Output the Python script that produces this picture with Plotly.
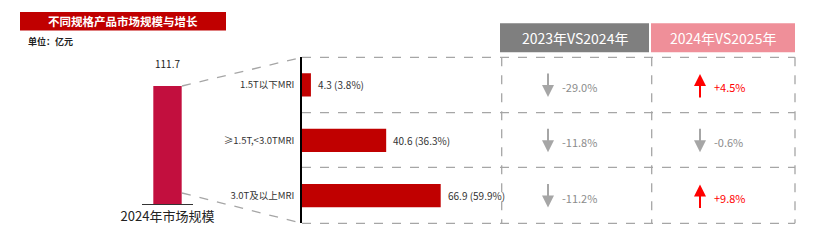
import plotly.graph_objects as go

W, H = 831, 242

# ---- data ----
total_label = "2024年市场规模"
total_value = 111.7
categories = ["1.5T以下MRI", "≥1.5T,<3.0TMRI", "3.0T及以上MRI"]
values = [4.3, 40.6, 66.9]
shares = ["3.8%", "36.3%", "59.9%"]
growth_23_24 = [-29.0, -11.8, -11.2]
growth_24_25 = [4.5, -0.6, 9.8]
headers = ["2023年VS2024年", "2024年VS2025年"]
title = "不同规格产品市场规模与增长"
unit = "单位：亿元"

FONT = "Noto Sans CJK SC, Noto Sans, sans-serif"

def px(x):
    return x / W

def py(y):
    return 1 - y / H

fig = go.Figure()

# big vertical bar
fig.add_trace(go.Bar(
    x=[0], y=[total_value], width=1,
    marker=dict(color="#c20f3e", line=dict(width=0)),
    xaxis="x", yaxis="y", showlegend=False, hoverinfo="skip",
))

# horizontal bars
fig.add_trace(go.Bar(
    x=values, y=categories, orientation="h", width=0.42,
    marker=dict(color="#c00000", line=dict(width=0)),
    xaxis="x2", yaxis="y2", showlegend=False, hoverinfo="skip",
))

shapes = []
annotations = []

grid = dict(color="#a6a6a6", width=1.3, dash="dash")

# bar value labels
for c, v, s in zip(categories, values, shares):
    annotations.append(dict(text=f"{v} ({s})", x=v, y=c, xref="x2", yref="y2",
                            xanchor="left", yanchor="middle", xshift=5, showarrow=False,
                            font=dict(size=10, color="#333333", family=FONT)))

# title banner
shapes.append(dict(type="rect", xref="paper", yref="paper",
                   x0=px(20), x1=px(226), y0=py(30.5), y1=py(12),
                   fillcolor="#c00000", line=dict(width=0), layer="below"))
annotations.append(dict(text="<b>%s</b>" % title, xref="paper", yref="paper",
                        x=px(123), y=py(21.5), xanchor="center", yanchor="middle",
                        showarrow=False,
                        font=dict(size=11.5, color="white", family=FONT)))
annotations.append(dict(text="<b>%s</b>" % unit, xref="paper", yref="paper",
                        x=px(26), y=py(42), xanchor="left", yanchor="middle",
                        showarrow=False,
                        font=dict(size=9, color="#222222", family=FONT)))

# total value label
annotations.append(dict(text=f"{total_value}", x=0, y=total_value, xref="x", yref="y",
                        xanchor="center", yanchor="bottom", yshift=13, showarrow=False,
                        font=dict(size=10, color="#222222", family=FONT)))

# connector dashed lines
shapes.append(dict(type="line", xref="paper", yref="paper",
                   x0=px(182), y0=py(86), x1=px(302), y1=py(57.3), line=grid))
shapes.append(dict(type="line", xref="paper", yref="paper",
                   x0=px(182), y0=py(193), x1=px(302), y1=py(223.3), line=grid))

# table grid
row_lines = [57.3, 112.7, 167.3, 223.3]
for yy in row_lines:
    shapes.append(dict(type="line", xref="paper", yref="paper",
                       x0=px(302), x1=px(795), y0=py(yy), y1=py(yy), line=grid))
for xx in [501.7, 651.7, 795]:
    shapes.append(dict(type="line", xref="paper", yref="paper",
                       x0=px(xx), x1=px(xx), y0=py(57.3), y1=py(223.3), line=grid))

# headers
hdr_boxes = [(500, 649, "#7f7f7f"), (651, 795, "#ef8f99")]
for (x0, x1, col), txt in zip(hdr_boxes, headers):
    shapes.append(dict(type="rect", xref="paper", yref="paper",
                       x0=px(x0), x1=px(x1), y0=py(52.3), y1=py(23.3),
                       fillcolor=col, line=dict(width=0), layer="below"))
    annotations.append(dict(text=txt, xref="paper", yref="paper",
                            x=px((x0 + x1) / 2), y=py(38),
                            xanchor="center", yanchor="middle", showarrow=False,
                            font=dict(size=14, color="white", family=FONT)))

# growth arrows and texts
row_centers = [85, 140.3, 195.6]
col_pos = [(548, 560), (700, 712)]
for (ax_x, tx), series in zip(col_pos, [growth_23_24, growth_24_25]):
    for yc, g in zip(row_centers, series):
        up = g > 0
        col = "#ff0000" if up else "#a6a6a6"
        tcol = "#ff0000" if up else "#8c8c8c"
        if up:
            tip, tail = yc - 11, yc + 14
        else:
            tip, tail = yc + 12, yc - 13
        annotations.append(dict(text="", xref="paper", yref="paper",
                                x=px(ax_x), y=py(tip), showarrow=True,
                                ax=0, ay=tail - tip, arrowhead=2, arrowsize=1.2,
                                arrowwidth=2, arrowcolor=col))
        annotations.append(dict(text=f"{g:+.1f}%" if up else f"{g:.1f}%",
                                xref="paper", yref="paper",
                                x=px(tx), y=py(yc + 2), xanchor="left", yanchor="middle",
                                showarrow=False,
                                font=dict(size=11, color=tcol, family=FONT)))

fig.update_layout(
    width=W, height=H, autosize=False,
    margin=dict(l=0, r=0, t=0, b=0, pad=0, autoexpand=False),
    paper_bgcolor="white", plot_bgcolor="white",
    font=dict(family=FONT),
    showlegend=False,
    xaxis=dict(domain=[px(141.7), px(193.3)], range=[-0.909, 0.909],
               tickvals=[0], ticktext=[total_label], ticks="",
               tickfont=dict(size=13, color="#222222", family=FONT),
               showline=True, linecolor="#333333", linewidth=1,
               showgrid=False, zeroline=False, anchor="y", fixedrange=True,
               automargin=False),
    yaxis=dict(domain=[py(204), py(60)], range=[0, 136.3], visible=False,
               anchor="x", fixedrange=True, automargin=False),
    xaxis2=dict(domain=[px(302), px(500)], range=[0, 95.5], visible=False,
                anchor="y2", fixedrange=True, automargin=False),
    yaxis2=dict(domain=[py(223.3), py(57.3)], type="category",
                categoryorder="array", categoryarray=categories,
                autorange="reversed", ticks="", ticklabelstandoff=4,
                tickfont=dict(size=9.5, color="#333333", family=FONT),
                showline=True, linecolor="#000000", linewidth=1.6,
                showgrid=False, zeroline=False, anchor="x2", fixedrange=True,
                automargin=False),
    shapes=shapes,
    annotations=annotations,
)

fig.write_html("out.html")
